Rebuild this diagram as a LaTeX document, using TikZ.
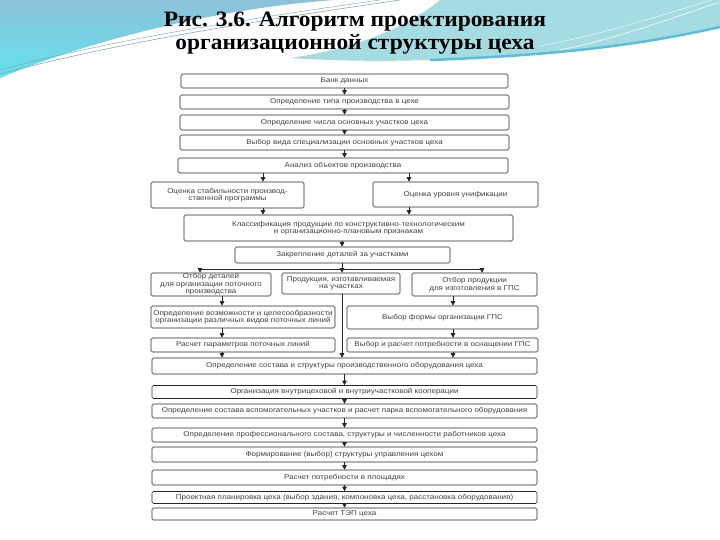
\documentclass[tikz,border=0pt]{standalone}
\usepackage{fontspec}
\setmainfont{Liberation Serif}
\newfontfamily\boxfont[FakeStretch=1.15]{Liberation Sans}
\newfontfamily\titlefont[FakeStretch=1.07]{Liberation Serif}
\usetikzlibrary{arrows.meta, calc}

\definecolor{skyTop}{HTML}{8CC2DA}
\definecolor{skyLow}{HTML}{62E2EE}
\definecolor{tealLight}{HTML}{A4DCE2}
\definecolor{tealDark}{HTML}{5ABFDA}
\definecolor{streak}{HTML}{7A9AA8}

\begin{document}
\begin{tikzpicture}[x=1bp, y=-1bp, >={Triangle[length=4.5bp, width=4.5bp]},
  stepbox/.style={draw=black!85, line width=0.6bp, rounded corners=1.5bp, inner sep=0.5bp,
    align=center, text=black!75, font=\boxfont\fontsize{7}{7.6}\selectfont},
  widebox/.style={stepbox, minimum width=385bp},
  conn/.style={->, line width=0.6bp, draw=black!85, fill=black!85},
  plain/.style={line width=0.6bp, draw=black!85},
  titletext/.style={font=\titlefont\bfseries\fontsize{22}{23}\selectfont, anchor=base}]

  \useasboundingbox (0,0) rectangle (720,540);
  \fill[white] (0,0) rectangle (720,540);

  % Header background: blue wave with a white swoosh
  \shade[top color=skyTop, bottom color=skyLow] (0,0) -- (335,0) .. controls (220,8) and (90,40) .. (0,78) -- cycle;
  \fill[tealLight] (440,0) -- (720,0) -- (720,27) .. controls (640,45) and (560,55) .. (430,60)
    .. controls (370,62) and (320,60) .. (290,58) .. controls (360,48) and (410,25) .. (440,0) -- cycle;
  \draw[tealDark, line width=2.5bp] (720,27) .. controls (640,45) and (560,55) .. (430,60);
  \draw[streak, line width=0.5bp] (0,74) .. controls (120,42) and (250,22) .. (400,0);
  \draw[streak, line width=0.4bp] (0,70) .. controls (110,40) and (240,20) .. (380,0);
  \draw[white, line width=0.6bp] (560,50) .. controls (620,38) and (680,15) .. (720,2);
  \draw[white, line width=0.4bp] (540,46) .. controls (610,33) and (670,12) .. (712,0);

  % Title
  \node[titletext] (titleA) at (355,27) {Рис. 3.6. Алгоритм проектирования};
  \node[titletext] (titleB) at (355,50) {организационной структуры цеха};

  % Upper chain of steps
  \node[stepbox, minimum width=327bp, minimum height=14bp] (bank) at (344.5,81) {Банк данных};
  \node[stepbox, minimum width=329bp, minimum height=14bp] (tip) at (344.5,102) {Определение типа производства в цехе};
  \node[stepbox, minimum width=329bp, minimum height=15bp] (uch) at (344.5,122.5) {Определение числа основных участков цеха};
  \node[stepbox, minimum width=329bp, minimum height=15bp] (spec) at (344.5,142.5) {Выбор вида специализации основных участков цеха};
  \node[stepbox, minimum width=330bp, minimum height=15bp] (anal) at (343,165.5) {Анализ объектов производства};

  % Two estimates
  \node[stepbox, minimum width=153bp, minimum height=26bp] (stab) at (227.5,195) {Оценка стабильности производ-\\ственной программы};
  \node[stepbox, minimum width=165bp, minimum height=25bp] (unif) at (455.5,194.5) {Оценка уровня унификации};

  \node[stepbox, minimum width=329bp, minimum height=26bp] (klass) at (348.5,228) {Классификация продукции по конструктивно-технологическим\\и организационно-плановым признакам};
  \node[stepbox, minimum width=215bp, minimum height=16bp] (zakr) at (342.5,255) {Закрепление деталей за участками};

  % Three branches
  \node[stepbox, minimum width=120bp, minimum height=23bp] (potok) at (211,284.5) {Отбор деталей\\для организации поточного\\производства};
  \node[stepbox, minimum width=118bp, minimum height=21bp] (prod) at (341,283.5) {Продукция, изготавливаемая\\на участках};
  \node[stepbox, minimum width=125bp, minimum height=23bp] (gps) at (474.5,284.5) {Отбор продукции\\для изготовления в ГПС};

  \node[stepbox, minimum width=184bp, minimum height=22bp] (lin) at (243,317) {Определение возможности и целесообразности\\организации различных видов поточных линий};
  \node[stepbox, minimum width=191bp, minimum height=23bp] (form) at (442.5,317.5) {Выбор формы организации ГПС};
  \node[stepbox, minimum width=184bp, minimum height=14bp] (par) at (243,345) {Расчет параметров поточных линий};
  \node[stepbox, minimum width=191bp, minimum height=14bp] (osn) at (442.5,345) {Выбор и расчет потребности в оснащении ГПС};

  % Lower chain of steps
  \node[widebox, minimum height=16bp] (obor) at (344.5,366) {Определение состава и структуры производственного оборудования цеха};
  \node[widebox, minimum height=13bp] (koop) at (344.5,392) {Организация внутрицеховой и внутриучастковой кооперации};
  \node[widebox, minimum height=14bp] (vsp) at (344.5,411) {Определение состава вспомогательных участков и расчет парка вспомогательного оборудования};
  \node[widebox, minimum height=14bp] (prof) at (344.5,435) {Определение профессионального состава, структуры и численности работников цеха};
  \node[widebox, minimum height=15bp] (upr) at (344.5,454.5) {Формирование (выбор) структуры управления цехом};
  \node[widebox, minimum height=15bp] (pl) at (344.5,477.5) {Расчет потребности в площадях};
  \node[widebox, minimum height=12bp] (plan) at (344.5,497.5) {Проектная планировка цеха (выбор здания, компоновка цеха, расстановка оборудования)};
  \node[widebox, minimum height=12bp] (tep) at (344.5,514) {Расчет ТЭП цеха};

  % Columns of the side arrows
  \coordinate (cA) at (263,0);
  \coordinate (cB) at (409,0);
  \coordinate (cM) at (342,0);
  \coordinate (cL) at (222,0);
  \coordinate (cR) at (453,0);
  \coordinate (jL) at (200,269);
  \coordinate (jR) at (482,269);

  % Straight arrows
  \foreach \a/\b in {bank/tip, tip/uch, uch/spec, obor/koop, koop/vsp, vsp/prof, prof/upr, upr/pl, pl/plan, plan/tep}
    \draw[conn] (\a.south) -- (\b.north);
  \draw[conn] (spec.south) -- (spec.south |- anal.north);

  % Analysis to the estimates and on to the classification
  \draw[conn] (anal.south -| cA) -- (stab.north -| cA);
  \draw[conn] (anal.south -| cB) -- (unif.north -| cB);
  \draw[conn] (stab.south -| cA) -- (klass.north -| cA);
  \draw[conn] (unif.south -| cB) -- (klass.north -| cB);
  \draw[conn] (klass.south -| cM) -- (zakr.north -| cM);

  % Fork into three branches
  \draw[conn] (zakr.south -| cM) -- (prod.north -| cM);
  \draw[plain] (jL) -- (jR);
  \draw[conn] (jL) -- (jL |- potok.north);
  \draw[conn] (jR) -- (jR |- gps.north);

  % Branches down to the equipment
  \draw[conn] (potok.south -| cL) -- (lin.north -| cL);
  \draw[conn] (lin.south -| cL) -- (par.north -| cL);
  \draw[conn] (par.south -| cL) -- (obor.north -| cL);
  \draw[conn] (gps.south -| cR) -- (form.north -| cR);
  \draw[conn] (form.south -| cR) -- (osn.north -| cR);
  \draw[conn] (osn.south -| cR) -- (obor.north -| cR);
  \draw[conn] (prod.south -| cM) -- (obor.north -| cM);

\end{tikzpicture}
\end{document}
